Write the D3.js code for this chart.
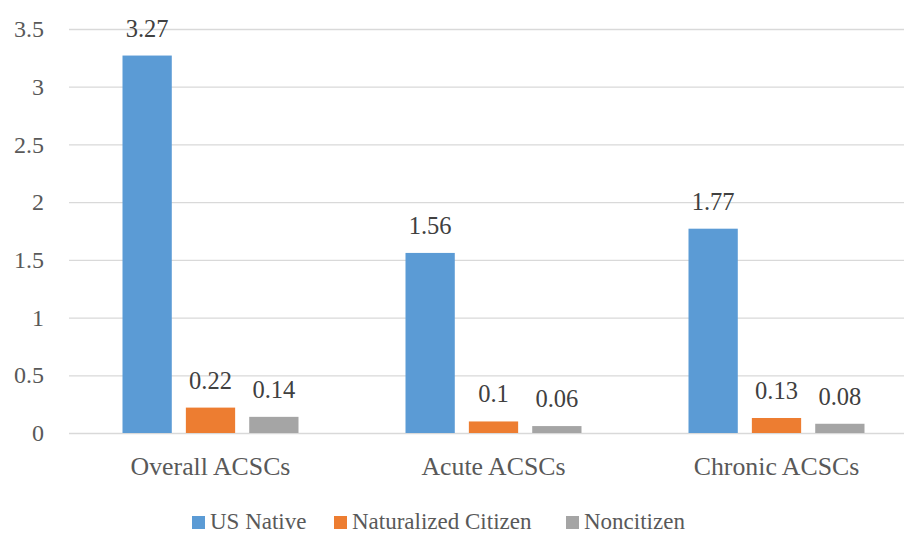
<!DOCTYPE html>
<html>
<head>
<meta charset="utf-8">
<script src="https://cdn.jsdelivr.net/npm/d3@7"></script>
<style>
  html, body { margin: 0; padding: 0; background: #fff; }
  svg { display: block; }
</style>
</head>
<body>
<svg id="chart" width="904" height="533"></svg>
<script>
// ACSC rates by nativity / citizenship status
const categories = ["Overall ACSCs", "Acute ACSCs", "Chronic ACSCs"];
const seriesNames = ["US Native", "Naturalized Citizen", "Noncitizen"];
const usNative = [3.27, 1.56, 1.77];
const naturalizedCitizen = [0.22, 0.1, 0.13];
const noncitizen = [0.14, 0.06, 0.08];
const yTicks = [0, 0.5, 1, 1.5, 2, 2.5, 3, 3.5];
const colors = ["#5b9bd5", "#ed7d31", "#a5a5a5"];

const FONT = "'Liberation Serif', serif";

const seriesValues = [usNative, naturalizedCitizen, noncitizen];
const rows = categories.map((c, i) => ({
  category: c,
  values: seriesNames.map((s, j) => ({ series: s, value: seriesValues[j][i] }))
}));

const svg = d3.select("#chart");
const plot = { left: 69, right: 918, top: 29, bottom: 433 };

const y = d3.scaleLinear().domain([0, 3.5]).range([plot.bottom, plot.top]);
const x0 = d3.scaleBand().domain(categories).range([plot.left, plot.right]).paddingInner(0).paddingOuter(0);
// each group: three 49px bars with 14px gaps, centred in its band
const x1 = d3.scaleBand().domain(seriesNames)
  .range([x0.bandwidth() / 2 - 88, x0.bandwidth() / 2 + 88])
  .paddingInner(0.2222).paddingOuter(0);

// value axis with horizontal gridlines
const yAxis = d3.axisLeft(y).tickValues(yTicks).tickSize(-(plot.right - plot.left)).tickPadding(25)
  .tickFormat(d3.format("~g"));
const gy = svg.append("g").attr("transform", `translate(${plot.left},0)`).call(yAxis);
gy.select(".domain").remove();
gy.selectAll(".tick line").attr("stroke", "#d9d9d9").attr("stroke-width", 1.3);
gy.selectAll(".tick text")
  .attr("fill", "#595959").attr("font-size", 24)
  .style("font-family", FONT)
  .attr("dy", "0.32em");

// bars
const groups = svg.append("g").selectAll("g").data(rows).join("g")
  .attr("transform", d => `translate(${x0(d.category)},0)`);

groups.selectAll("rect").data(d => d.values).join("rect")
  .attr("x", d => x1(d.series))
  .attr("width", x1.bandwidth())
  .attr("y", d => y(d.value))
  .attr("height", d => y(0) - y(d.value))
  .attr("fill", (d, i) => colors[i]);

// value labels above each bar
groups.selectAll("text.val").data(d => d.values).join("text")
  .attr("class", "val")
  .attr("x", d => x1(d.series) + x1.bandwidth() / 2)
  .attr("y", d => y(d.value) - 19)
  .attr("text-anchor", "middle")
  .attr("font-size", 24.5)
  .style("font-family", FONT)
  .attr("fill", "#404040")
  .text(d => d3.format("~g")(d.value));

// category labels
const xAxis = d3.axisBottom(x0).tickSize(0).tickPadding(0);
const gx = svg.append("g").attr("transform", `translate(0,${plot.bottom})`).call(xAxis);
gx.select(".domain").remove();
gx.selectAll(".tick text")
  .attr("fill", "#595959").attr("font-size", 25.8)
  .style("font-family", FONT)
  .attr("y", 42).attr("dy", 0);

// legend
const legendItems = [
  { name: seriesNames[0], x: 192 },
  { name: seriesNames[1], x: 334 },
  { name: seriesNames[2], x: 566 }
];
const legend = svg.append("g").selectAll("g").data(legendItems).join("g")
  .attr("transform", d => `translate(${d.x},0)`);
legend.append("rect").attr("x", 0).attr("y", 516).attr("width", 13).attr("height", 13)
  .attr("fill", (d, i) => colors[i]);
legend.append("text").attr("x", 18).attr("y", 529)
  .attr("font-size", 23)
  .style("font-family", FONT)
  .attr("fill", "#595959")
  .text(d => d.name);
</script>
</body>
</html>
